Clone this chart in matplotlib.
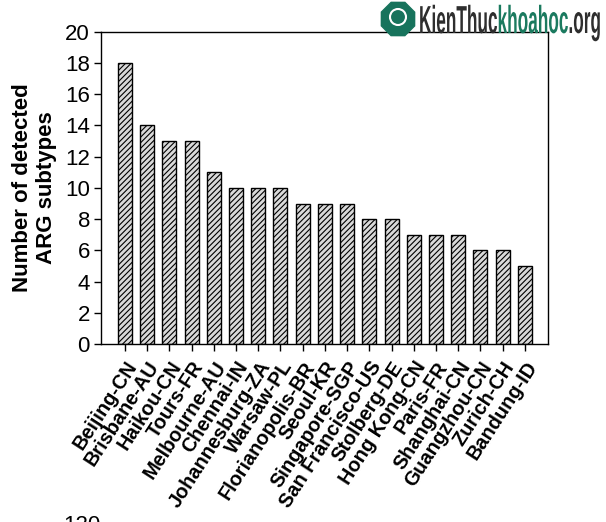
import matplotlib.pyplot as plt
from matplotlib.patches import RegularPolygon, Circle, PathPatch
from matplotlib.textpath import TextPath, text_to_path
from matplotlib.font_manager import FontProperties
from matplotlib.transforms import Affine2D, IdentityTransform

cities = ["Beijing-CN", "Brisbane-AU", "Haikou-CN", "Tours-FR", "Melbourne-AU",
          "Chennai-IN", "Johannesburg-ZA", "Warsaw-PL", "Florianopolis-BR",
          "Seoul-KR", "Singapore-SGP", "San Francisco-US", "Stolberg-DE",
          "Hong Kong-CN", "Paris-FR", "Shanghai-CN", "Guangzhou-CN",
          "Zurich-CH", "Bandung-ID"]
arg_subtypes = [18, 14, 13, 13, 11, 10, 10, 10, 9, 9, 9, 8, 8, 7, 7, 7, 6, 6, 5]
y_ticks = [0, 2, 4, 6, 8, 10, 12, 14, 16, 18, 20]

plt.rcParams['font.family'] = ['Liberation Sans', 'DejaVu Sans']
plt.rcParams['hatch.linewidth'] = 0.8
plt.rcParams['hatch.color'] = '#333333'

W, H = 606, 522
fig = plt.figure(figsize=(W / 100, H / 100), dpi=100)
ax = fig.add_axes([0.1667, 0.341, 0.737, 0.598])

x = list(range(len(cities)))
ax.bar(x, arg_subtypes, width=0.63, color='#d9d9d9', edgecolor='black',
       linewidth=1.0, hatch='//////')

ax.set_xlim(-1.08, 19.03)
ax.set_ylim(0, 20)
ax.set_yticks(y_ticks)
ax.set_xticks(x)
ax.set_xticklabels(cities, rotation=57, ha='right', rotation_mode='anchor',
                   fontweight='bold', fontsize=14.3)
ax.tick_params(axis='y', labelsize=16, length=5, width=1, direction='out', pad=3)
ax.tick_params(axis='x', length=5, width=1, direction='out', pad=5)
for s in ax.spines.values():
    s.set_linewidth(1.0)

ax.set_ylabel("Number of detected\nARG subtypes", fontsize=16,
              fontweight='bold', labelpad=6, linespacing=1.15)

# watermark logo (top right): condensed text drawn as squeezed paths, pixel coords
logo_parts = [("KienThuc", '#2e2e2e'), ("khoahoc", '#1b7a5f'), (".org", '#2e2e2e')]
prop = FontProperties(family='Liberation Sans', weight='bold', size=39)
widths = [text_to_path.get_text_width_height_descent(t, prop, ismath=False)[0]
          for t, _ in logo_parts]
sx = 182 / sum(widths)
x0, base = 419, H - 33
for (txt, col), w in zip(logo_parts, widths):
    tp = TextPath((0, 0), txt, prop=prop)
    path = Affine2D().scale(sx, 1).translate(x0, base).transform_path(tp)
    fig.patches.append(PathPatch(path, transform=IdentityTransform(),
                                 facecolor=col, edgecolor='none', zorder=5))
    x0 += w * sx
fig.patches.append(RegularPolygon((398, H - 19), 8, radius=18, orientation=0.39,
                                  transform=IdentityTransform(), color='#17735c', zorder=5))
fig.patches.append(Circle((398, H - 17), 8, transform=IdentityTransform(),
                          facecolor='none', edgecolor='white', lw=1.5, zorder=6))

# cut-off fragment of next panel at the bottom
fig.text(63 / W, -14 / H, "120", fontsize=16, va='bottom', ha='left')

fig.savefig('out.png', dpi=100)
